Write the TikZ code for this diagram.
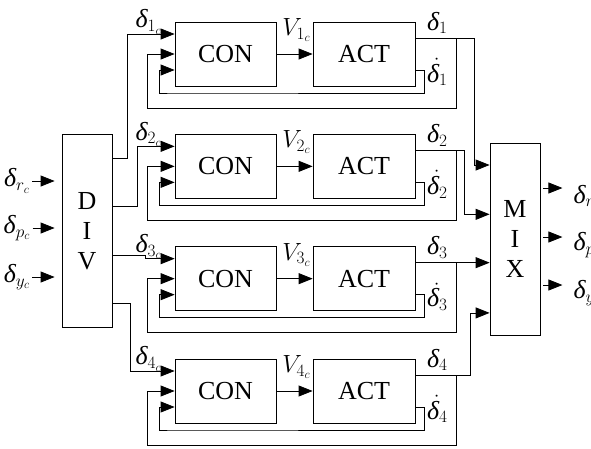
\documentclass[tikz,border=0pt]{standalone}
\usepackage{fontspec}
\setmainfont{Liberation Serif}
\usetikzlibrary{arrows.meta, positioning, calc}
\newcommand{\dlt}{\textit{δ}}
\tikzset{
	blk/.style ={rectangle, draw=black, line width=0.8pt, minimum width=101pt, minimum height=64pt, inner sep=0pt, font=\fontsize{26}{30}\selectfont},
	bar/.style ={blk, minimum width=50pt, minimum height=193pt, align=center},
	sig/.style ={-{Triangle[length=14pt, width=11pt]}, line width=0.8pt},
	lbl/.style ={inner sep=0pt, font=\fontsize{26}{28}\selectfont},
}

\begin{document}
\begin{tikzpicture}[x=1pt, y=-1pt]
			\useasboundingbox (0,0) rectangle (591,448);
			\node[bar] (div) at (87,231) {D\\I\\V};
			\node[bar, minimum height=192pt] (mix) at (515,239) {M\\I\\X};
			% command inputs
			\foreach \k/\s/\yy in {1/r/181, 2/p/228, 3/y/277} {
				\node[lbl] (in\k) at (17,\yy) {$\dlt_{\s_c}$};
				\draw[sig, shorten <=2pt, shorten >=7pt] (in\k) -- (in\k -| div.west);
			}
			% four channels
			\foreach \i in {1,...,4} {
				\pgfmathsetmacro{\cy}{54+112.33*(\i-1)}
				\node[blk] (con\i) at (225.5,\cy) {CON};
				\node[blk, minimum width=102pt] (act\i) at (364,\cy) {ACT};
				\draw[sig] (con\i) -- node[lbl, xshift=2pt, yshift=24pt] {$V_{\i_c}$} (act\i);
				\coordinate (a\i) at ($(con\i.west)+(0,-20)$);
				\coordinate (ci\i) at ($(con\i.west)+(0,16)$);
				\coordinate (d\i) at ($(act\i.east)+(0,-16)$);
				\coordinate (dd\i) at ($(act\i.east)+(0,16)$);
				\coordinate (br\i) at ($(d\i)+(41,0)$);
				\coordinate (o\i) at ($(div.east)+(0,48.3*\i-120.8)$);
				\coordinate (m\i) at ($(mix.west)+(0,49.3*\i-123.3)$);
				\node[lbl] at ($(con\i.west)+(-26,-32)$) {$\dlt_{\i_c}$};
				\node[lbl] at ($(d\i)+(22,-15)$) {$\dlt_{\i}$};
				\node[lbl] at ($(dd\i)+(22,2)$) {$\skew{5}{\dot}{\dlt}_{\i}$};
				% inner and outer feedback
				\draw[sig] (dd\i) -- ++(9,0) |- ($(ci\i)+(0,23)$) -| ($(ci\i)+(-15,0)$) -- (ci\i);
				\draw[sig] (br\i) -- ($(br\i |- con\i)+(0,54)$) -| ($(con\i.west)+(-27,0)$) -- (con\i.west);
			}
			% DIV to CON
			\draw[sig] (o1) -- ++(15,0) |- (a1);
			\draw[sig] (o2) -- ++(25,0) |- (a2);
			\draw[sig] (o3) -- ++(33,0) |- (a3);
			\draw[sig] (o4) -- ++(18,0) |- (a4);
			% ACT to MIX
			\draw[sig] (d1) -| ($(m1)+(-15,0)$) -- (m1);
			\draw[sig] (d2) -| ($(m2)+(-25,0)$) -- (m2);
			\draw[sig] (d3) -- (d3 -| mix.west);
			\draw[sig] (d4) -| ($(m4)+(-19,0)$) -- (m4);
			% outputs
			\foreach \k/\s/\dy in {1/r/-51, 2/p/-2, 3/y/46} {
				\coordinate (q\k) at ($(mix.east)+(0,\dy)$);
				\node[lbl, anchor=west] (out\k) at ($(q\k)+(33,8)$) {$\dlt_{\s}$};
				\draw[sig, shorten <=3pt, shorten >=11pt] (q\k) -- (q\k -| out\k.west);
			}
		\end{tikzpicture}
\end{document}
